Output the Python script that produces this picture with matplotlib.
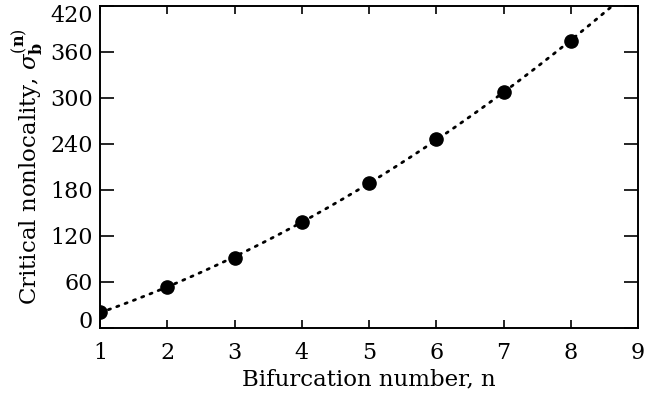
#!/usr/bin/env python3
"""Critical nonlocality vs bifurcation number."""
import numpy as np
import matplotlib
matplotlib.use('Agg')
import matplotlib.pyplot as plt

# Data
bifurcation_n = [1, 2, 3, 4, 5, 6, 7, 8]
sigma_b = [21, 53, 91, 138, 189, 246, 307, 374]

x_ticks = [1, 2, 3, 4, 5, 6, 7, 8, 9]
y_ticks = [0, 60, 120, 180, 240, 300, 360, 420]

plt.rcParams['font.family'] = ['DejaVu Serif']
plt.rcParams['mathtext.fontset'] = 'dejavuserif'

fig = plt.figure(figsize=(6.45, 4.03), dpi=100)
ax = fig.add_axes([100 / 645, 1 - 328 / 403, 538 / 645, 322.5 / 403])

# Smooth fit through the points (quadratic)
coef = np.polyfit(bifurcation_n, sigma_b, 2)
xf = np.linspace(1, 9, 300)
ax.plot(xf, np.polyval(coef, xf), color='black', linestyle=(0, (0.8, 2.4)),
        linewidth=2.0, dash_capstyle='round')

ax.plot(bifurcation_n, sigma_b, 'o', color='black', markersize=9.5)

ax.set_xlim(1, 9)
ax.set_ylim(0, 420)
ax.set_xticks(x_ticks)
ax.set_yticks(y_ticks)

ax.tick_params(axis='both', direction='in', top=True, right=True,
               labelsize=16, width=1.2, colors='black')
ax.tick_params(axis='x', length=6, pad=10)
ax.tick_params(axis='y', length=10, pad=5)
for spine in ax.spines.values():
    spine.set_linewidth(1.4)

# end labels sit inside the axis range, as in the original
ylabels = ax.get_yticklabels()
ylabels[0].set_verticalalignment('baseline')
ylabels[-1].set_verticalalignment('top')

ax.set_xlabel('Bifurcation number, n', fontsize=16.5, labelpad=3)
ax.set_ylabel(r'Critical nonlocality, $\sigma_\mathbf{b}^{(\mathbf{n})}$',
              fontsize=16.5, labelpad=4)

plt.savefig('out.png', dpi=100)
